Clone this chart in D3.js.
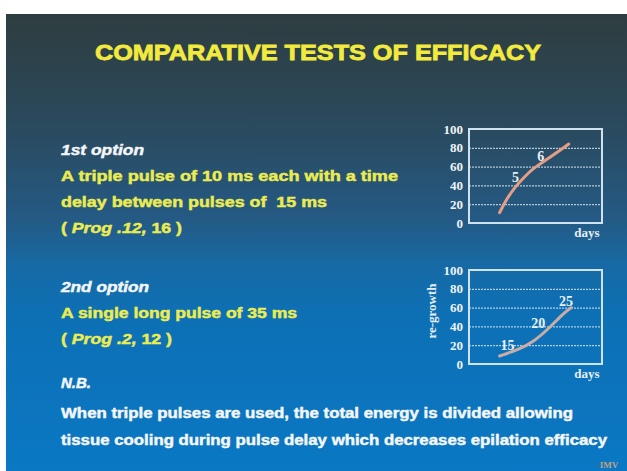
<!DOCTYPE html>
<html>
<head>
<meta charset="utf-8">
<script src="https://cdn.jsdelivr.net/npm/d3@7"></script>
<style>
  html, body { margin: 0; padding: 0; background: #ffffff; }
  svg { display: block; }
</style>
</head>
<body>
<div id="slide"></div>
<script>
var svgWidth = 627;
var svgHeight = 471;

// chart 1: triple pulse
var days1 = [2.3, 2.8, 3.5, 4.1, 4.8, 5.8, 7.5];
var growth1 = [11, 25, 39, 48, 58, 67, 84];
var markText1 = ["5", "6"];
var markDay1 = [3.5, 5.4];
var markGrowth1 = [49, 71];

// chart 2: single long pulse
var days2 = [2.3, 3.8, 4.8, 6.1, 7.1, 7.7];
var growth2 = [8.5, 16, 23, 39, 54, 60];
var markText2 = ["15", "20", "25"];
var markDay2 = [2.9, 5.2, 7.3];
var markGrowth2 = [20, 43, 67];

var yTicks = [0, 20, 40, 60, 80, 100];
var gridTicks = [20, 40, 60, 80];

var svg = d3.select("#slide")
  .append("svg")
  .attr("width", svgWidth)
  .attr("height", svgHeight);

// background gradient
var defs = svg.append("defs");
var grad = defs.append("linearGradient")
  .attr("id", "bg")
  .attr("x1", 0).attr("y1", 0).attr("x2", 0).attr("y2", 1);
[["0%", "#2e3d3f"], ["25%", "#2a4a5e"], ["45%", "#245a85"], ["55%", "#166aa5"],
 ["66%", "#0d70b5"], ["100%", "#0a78c4"]].forEach(function(s) {
  grad.append("stop").attr("offset", s[0]).attr("stop-color", s[1]);
});
svg.append("rect")
  .attr("x", 6).attr("y", 14)
  .attr("width", svgWidth - 6).attr("height", svgHeight - 14)
  .attr("fill", "url(#bg)");

// title
svg.append("text")
  .attr("x", 318).attr("y", 60)
  .attr("text-anchor", "middle")
  .attr("font-family", "Liberation Sans, Arial, sans-serif")
  .attr("font-weight", "bold")
  .attr("font-size", 22)
  .attr("fill", "#f3ea3e")
  .attr("stroke", "#f3ea3e")
  .attr("stroke-width", 0.8)
  .attr("textLength", 446)
  .attr("lengthAdjust", "spacingAndGlyphs")
  .text("COMPARATIVE TESTS OF EFFICACY");

// left side text
var sans = "Liberation Sans, Arial, sans-serif";
function addLine(y, parts, color, len) {
  var t = svg.append("text")
    .attr("x", 61).attr("y", y)
    .attr("font-family", sans)
    .attr("font-weight", "bold")
    .attr("font-size", 14)
    .attr("fill", color)
    .attr("stroke", color)
    .attr("stroke-width", 0.45)
    .attr("xml:space", "preserve");
  parts.forEach(function(p) {
    t.append("tspan").attr("font-style", p[1] ? "italic" : "normal").text(p[0]);
  });
  if (len) t.attr("textLength", len).attr("lengthAdjust", "spacingAndGlyphs");
}
var yellow = "#ecec50";
var white = "#f4f6f8";
addLine(155, [["1st option", true]], white, 83);
addLine(181, [["A triple pulse of 10 ms each with a time", false]], yellow, 337);
addLine(207, [["delay between pulses of  15 ms", false]], yellow, 266);
addLine(233, [["( ", false], ["Prog .12,", true], [" 16 )", false]], yellow, 121);
addLine(292, [["2nd option", true]], white, 88);
addLine(318, [["A single long pulse of 35 ms", false]], yellow, 236);
addLine(344, [["( ", false], ["Prog .2,", true], [" 12 )", false]], yellow, 111);
addLine(388, [["N.B.", true]], white, 30);
addLine(418, [["When triple pulses are used, the total energy is divided allowing", false]], white, 512);
addLine(445, [["tissue cooling during pulse delay which decreases epilation efficacy", false]], white, 546);

svg.append("text")
  .attr("x", 609).attr("y", 468)
  .attr("text-anchor", "middle")
  .attr("font-family", "Liberation Serif, serif")
  .attr("font-weight", "bold")
  .attr("font-size", 9)
  .attr("fill", "#c2a27e")
  .text("IMV");

// small chart builder
function drawChart(top, days, growth, markText, markDay, markGrowth, color, yLabel) {
  var left = 469, right = 602, h = 94;
  var x = d3.scaleLinear().domain([0, 10]).range([left, right]);
  var y = d3.scaleLinear().domain([0, 100]).range([top + h, top]);
  var g = svg.append("g");
  var serif = "Liberation Serif, Times New Roman, serif";

  // dotted grid
  var grid = g.append("g")
    .attr("transform", "translate(" + left + ",0)")
    .call(d3.axisLeft(y).tickValues(gridTicks).tickSize(-(right - left)).tickFormat(""));
  grid.select(".domain").remove();
  grid.selectAll("line")
    .attr("stroke", "#d6e6f0")
    .attr("stroke-width", 1)
    .attr("stroke-dasharray", "2,1");

  // frame
  g.append("rect")
    .attr("x", left).attr("y", top)
    .attr("width", right - left).attr("height", h)
    .attr("fill", "none")
    .attr("stroke", "#cfe2ee")
    .attr("stroke-width", 2);

  // y labels
  var ax = g.append("g")
    .attr("transform", "translate(" + (left - 4) + ",0)")
    .call(d3.axisLeft(y).tickValues(yTicks).tickSize(0).tickPadding(2));
  ax.select(".domain").remove();
  ax.selectAll("text")
    .attr("font-family", serif)
    .attr("font-weight", "bold")
    .attr("font-size", 13)
    .attr("fill", "#eef3f6");

  // curve
  var pts = days.map(function(d, i) { return [d, growth[i]]; });
  g.append("path")
    .datum(pts)
    .attr("fill", "none")
    .attr("stroke", color)
    .attr("stroke-width", 3)
    .attr("stroke-linecap", "round")
    .attr("d", d3.line()
      .x(function(d) { return x(d[0]); })
      .y(function(d) { return y(d[1]); })
      .curve(d3.curveBasis));

  // curve marks
  g.selectAll(null).data(markText)
    .enter()
    .append("text")
    .attr("x", function(d, i) { return x(markDay[i]); })
    .attr("y", function(d, i) { return y(markGrowth[i]); })
    .attr("dy", "0.35em")
    .attr("text-anchor", "middle")
    .attr("font-family", serif)
    .attr("font-weight", "bold")
    .attr("font-size", 14)
    .attr("fill", "#e8eff4")
    .text(function(d) { return d; });

  g.append("text")
    .attr("x", 587).attr("y", top + h + 14)
    .attr("text-anchor", "middle")
    .attr("font-family", serif)
    .attr("font-weight", "bold")
    .attr("font-size", 13)
    .attr("fill", "#e8eff4")
    .text("days");

  if (yLabel) {
    g.append("text")
      .attr("transform", "translate(436," + (top + h / 2 - 6) + ") rotate(-90)")
      .attr("text-anchor", "middle")
      .attr("font-family", serif)
      .attr("font-weight", "bold")
      .attr("font-size", 13)
      .attr("fill", "#e8eff4")
      .text(yLabel);
  }
}

drawChart(129, days1, growth1, markText1, markDay1, markGrowth1, "#e59e85", null);
drawChart(270, days2, growth2, markText2, markDay2, markGrowth2, "#c9aca8", "re-growth");
</script>
</body>
</html>
